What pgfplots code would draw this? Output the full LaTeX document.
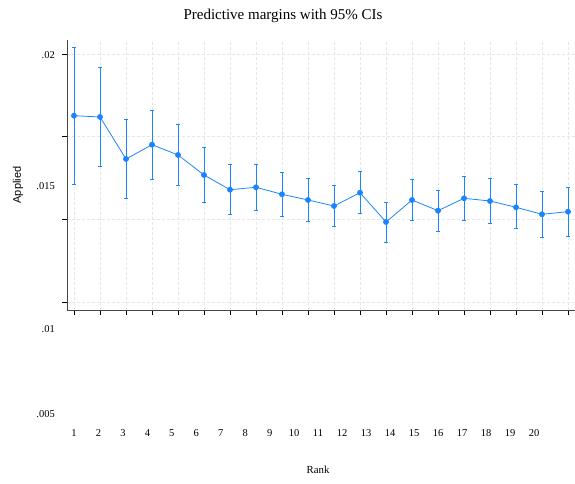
\documentclass[border=0pt]{standalone}
\usepackage{pgfplots}
\pgfplotsset{compat=1.18}
\usepackage{pgfplotstable}
\usepackage{fontspec}
\setmainfont{Liberation Serif}
\newfontfamily\labelsans{Liberation Sans}

\definecolor{ciblue}{RGB}{26,133,255}
\definecolor{gridgray}{RGB}{230,230,230}
\definecolor{axgray}{RGB}{70,70,70}

% Predictive margins of Applied by Rank, with 95% confidence limits
\pgfplotstableread{
x  y        lo       hi
1  0.018134 0.016069 0.020203
2  0.018095 0.016592 0.019598
3  0.016825 0.015624 0.018034
4  0.017257 0.016199 0.018306
5  0.016946 0.016029 0.017862
6  0.016341 0.015515 0.017178
7  0.015896 0.015140 0.016652
8  0.015969 0.015282 0.016664
9  0.015757 0.015101 0.016431
10 0.015585 0.014950 0.016229
11 0.015403 0.014777 0.016038
12 0.015805 0.015182 0.016440
13 0.014919 0.014315 0.015524
14 0.015585 0.014959 0.016220
15 0.015261 0.014626 0.015887
16 0.015636 0.014980 0.016289
17 0.015554 0.014889 0.016229
18 0.015364 0.014717 0.016047
19 0.015152 0.014457 0.015857
20 0.015231 0.014496 0.015969
}\margins

\begin{document}
\begin{tikzpicture}
\useasboundingbox (0pt,0pt) rectangle (575pt,483pt);
\begin{axis}[
  at={(67pt,173pt)}, anchor=south west,
  scale only axis, width=508pt, height=270pt,
  xmin=0.7308, xmax=20.2692,
  ymin=0.012258, ymax=0.020423,
  axis lines*=left,
  axis line style={axgray, line width=0.9pt},
  xtick={1,...,20}, xticklabels={},
  ytick={0.0125,0.015,0.0175,0.02}, yticklabels={},
  scaled y ticks=false,
  tick align=outside,
  major tick length=5pt,
  tick style={black, line width=0.8pt},
  grid=major,
  major grid style={gridgray, dash pattern=on 3pt off 2pt, line width=0.5pt},
  clip=false,
]
\addplot[ciblue, line width=0.8pt,
  mark=*, mark size=2.5pt, mark options={solid, fill=ciblue, draw=ciblue},
  error bars/.cd, y dir=both, y explicit,
  error bar style={ciblue, line width=1pt},
  error mark options={rotate=90, mark size=1.8pt, ciblue, line width=0.8pt}]
  table[x=x, y=y,
        y error plus expr=\thisrow{hi}-\thisrow{y},
        y error minus expr=\thisrow{y}-\thisrow{lo}] {\margins};
\end{axis}

% title and axis titles
\node at (283pt,467pt) {\fontsize{15}{18}\selectfont Predictive margins with 95\% CIs};
\node at (318pt,13pt) {\fontsize{10.8}{13}\selectfont Rank};
\node[rotate=90] at (18pt,298pt) {\labelsans\fontsize{11}{13}\selectfont Applied};

% value labels on the vertical axis
\foreach \lab/\yy in {.02/428, .015/297, .01/154, .005/69}
  \node[anchor=east, inner sep=0pt] at (55pt,\yy pt) {\fontsize{10.5}{12}\selectfont \lab};

% category labels
\foreach \k in {1,...,9}
  \node at ({(74+24.46*(\k-1))*1pt},50pt) {\fontsize{10.5}{12}\selectfont \k};
\foreach \k in {10,...,20}
  \node at ({(294+24*(\k-10))*1pt},50pt) {\fontsize{10.5}{12}\selectfont \k};
\end{tikzpicture}
\end{document}
